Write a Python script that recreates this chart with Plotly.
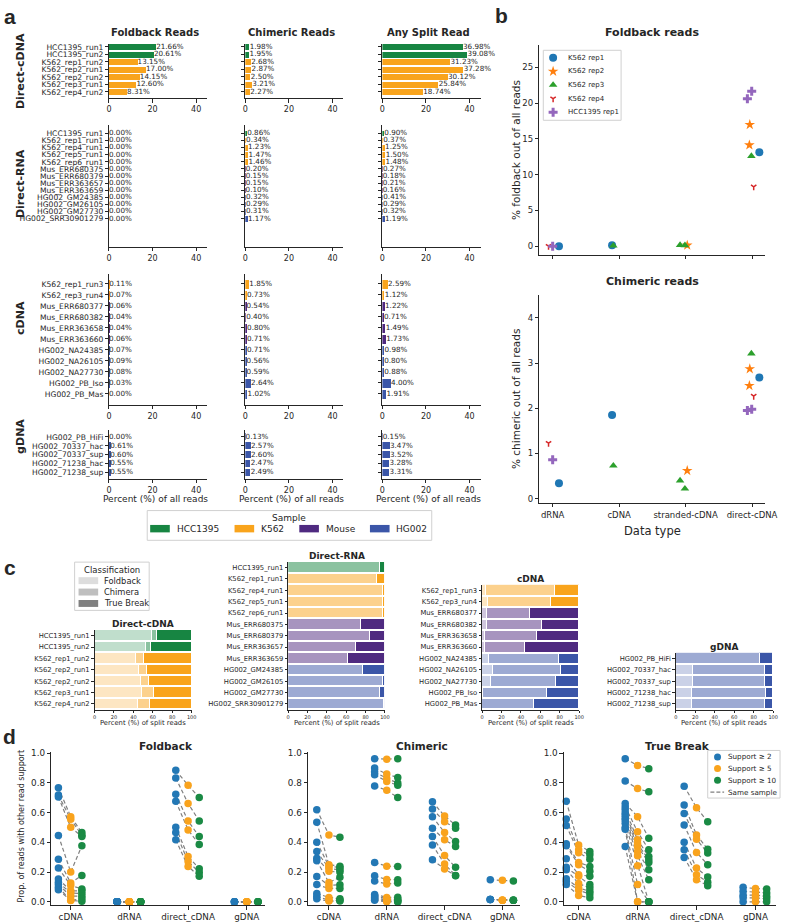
import plotly.graph_objects as go

W, H = 794, 922
FONT = "DejaVu Sans"
INK = "#262626"

# ---------------- DATA: panel a (percent of all reads) ----------------
a_dc_samples = ["HCC1395_run1", "HCC1395_run2", "K562_rep1_run2", "K562_rep2_run1",
                "K562_rep2_run2", "K562_rep3_run1", "K562_rep4_run2"]
a_dc_fold = [21.66, 20.61, 13.15, 17.00, 14.15, 12.60, 8.31]
a_dc_chim = [1.98, 1.95, 2.68, 2.87, 2.50, 3.21, 2.27]
a_dc_split = [36.98, 39.08, 31.23, 37.28, 30.12, 25.84, 18.74]

a_dr_samples = ["HCC1395_run1", "K562_rep1_run1", "K562_rep4_run1", "K562_rep5_run1",
                "K562_rep6_run1", "Mus_ERR680375", "Mus_ERR680379", "Mus_ERR363657",
                "Mus_ERR363659", "HG002_GM24385", "HG002_GM26105", "HG002_GM27730",
                "HG002_SRR30901279"]
a_dr_fold = [0.00, 0.00, 0.00, 0.00, 0.00, 0.00, 0.00, 0.00, 0.00, 0.00, 0.00, 0.00, 0.00]
a_dr_chim = [0.86, 0.34, 1.23, 1.47, 1.46, 0.20, 0.15, 0.15, 0.10, 0.32, 0.29, 0.31, 1.17]
a_dr_split = [0.90, 0.37, 1.25, 1.50, 1.48, 0.27, 0.18, 0.21, 0.16, 0.41, 0.29, 0.32, 1.19]

a_cd_samples = ["K562_rep1_run3", "K562_rep3_run4", "Mus_ERR680377", "Mus_ERR680382",
                "Mus_ERR363658", "Mus_ERR363660", "HG002_NA24385", "HG002_NA26105",
                "HG002_NA27730", "HG002_PB_Iso", "HG002_PB_Mas"]
a_cd_fold = [0.11, 0.07, 0.06, 0.04, 0.04, 0.06, 0.07, 0.09, 0.08, 0.03, 0.00]
a_cd_chim = [1.85, 0.73, 0.54, 0.40, 0.80, 0.71, 0.71, 0.56, 0.59, 2.64, 1.02]
a_cd_split = [2.59, 1.12, 1.22, 0.71, 1.49, 1.73, 0.98, 0.80, 0.88, 4.00, 1.91]

a_gd_samples = ["HG002_PB_HiFi", "HG002_70337_hac", "HG002_70337_sup",
                "HG002_71238_hac", "HG002_71238_sup"]
a_gd_fold = [0.00, 0.61, 0.60, 0.55, 0.55]
a_gd_chim = [0.13, 2.57, 2.60, 2.47, 2.49]
a_gd_split = [0.15, 3.47, 3.52, 3.28, 3.31]

sample_groups = ["HCC1395", "K562", "Mouse", "HG002"]

# ---------------- DATA: panel b ----------------
b_types = ["dRNA", "cDNA", "stranded-cDNA", "direct-cDNA"]
b_series = ["K562 rep1", "K562 rep2", "K562 rep3", "K562 rep4", "HCC1395 rep1"]
b_pt_series = ["K562 rep1", "K562 rep1", "K562 rep1",
               "K562 rep2", "K562 rep2", "K562 rep2",
               "K562 rep3", "K562 rep3", "K562 rep3", "K562 rep3",
               "K562 rep4", "K562 rep4",
               "HCC1395 rep1", "HCC1395 rep1", "HCC1395 rep1"]
b_pt_type = ["dRNA", "cDNA", "direct-cDNA",
             "stranded-cDNA", "direct-cDNA", "direct-cDNA",
             "cDNA", "stranded-cDNA", "stranded-cDNA", "direct-cDNA",
             "dRNA", "direct-cDNA",
             "dRNA", "direct-cDNA", "direct-cDNA"]
b_pt_jitter = [0.095, -0.106, 0.11,
               0.025, -0.034, -0.04,
               -0.087, -0.083, -0.01, -0.01,
               -0.062, 0.025,
               0.0, -0.005, -0.07]
b_pt_fold = [0.00, 0.11, 13.15,
             0.12, 17.00, 14.15,
             0.07, 0.15, 0.12, 12.60,
             0.00, 8.31,
             0.00, 21.66, 20.61]
b_pt_chim = [0.34, 1.85, 2.68,
             0.62, 2.87, 2.50,
             0.73, 0.40, 0.22, 3.21,
             1.23, 2.27,
             0.86, 1.98, 1.95]

# ---------------- DATA: panel c (percent of split reads) ----------------
c_dc_fold = [58.6, 52.7, 42.1, 45.6, 47.0, 48.8, 44.3]
c_dc_chim = [5.4, 5.0, 8.6, 7.7, 8.3, 12.4, 12.1]
c_dc_tb = [36.0, 42.3, 49.3, 46.7, 44.7, 38.8, 43.6]
c_dr_fold = [0.0, 0.0, 0.0, 0.0, 0.0, 0.0, 0.0, 0.0, 0.0, 0.0, 0.0, 0.0, 0.0]
c_dr_chim = [95.6, 92.5, 98.4, 98.0, 98.6, 75.5, 84.5, 70.0, 62.0, 78.0, 98.0, 95.5, 99.0]
c_dr_tb = [4.4, 7.5, 1.6, 2.0, 1.4, 24.5, 15.5, 30.0, 38.0, 22.0, 2.0, 4.5, 1.0]
c_cd_fold = [4.2, 6.3, 4.9, 5.6, 2.7, 3.5, 7.1, 11.3, 9.1, 0.8, 0.0]
c_cd_chim = [71.4, 65.2, 44.3, 56.3, 53.7, 41.0, 72.4, 70.0, 67.0, 66.0, 53.4]
c_cd_tb = [24.4, 28.5, 50.8, 38.1, 43.6, 55.5, 20.5, 18.7, 23.9, 33.2, 46.6]
c_gd_fold = [0.0, 17.6, 17.0, 16.8, 16.6]
c_gd_chim = [86.7, 74.1, 73.9, 75.3, 75.2]
c_gd_tb = [13.3, 8.3, 9.1, 7.9, 8.2]
c_classes = ["Foldback", "Chimera", "True Break"]

# ---------------- DATA: panel d (support >=2, >=5, >=10 per sample) ----------------
d_categories = ["cDNA", "dRNA", "direct_cDNA", "gDNA"]
d_supports = ["Support \u2265 2", "Support \u2265 5", "Support \u2265 10"]

d_fold_cDNA = [(0.767, 0.573, 0.466), (0.718, 0.555, 0.448), (0.706, 0.501, 0.439),
               (0.446, 0.200, 0.377), (0.287, 0.127, 0.178), (0.227, 0.110, 0.087),
               (0.154, 0.074, 0.074), (0.131, 0.060, 0.056), (0.116, 0.038, 0.038),
               (0.098, 0.011, 0.020), (0.082, 0.009, 0.004)]
d_fold_dRNA = [(0.0, 0.0, 0.0), (0.0, 0.0, 0.0), (0.0, 0.0, 0.0), (0.0, 0.0, 0.0),
               (0.0, 0.0, 0.0), (0.0, 0.0, 0.0), (0.0, 0.0, 0.0), (0.0, 0.0, 0.0),
               (0.0, 0.0, 0.0), (0.0, 0.0, 0.0), (0.0, 0.0, 0.0), (0.0, 0.0, 0.0),
               (0.0, 0.0, 0.0)]
d_fold_direct = [(0.885, 0.784, 0.702), (0.833, 0.662, 0.544), (0.724, 0.544, 0.439),
                 (0.677, 0.484, 0.386), (0.501, 0.305, 0.223), (0.466, 0.272, 0.198),
                 (0.417, 0.238, 0.172)]
d_fold_gDNA = [(0.0, 0.0, 0.0), (0.0, 0.0, 0.0), (0.0, 0.0, 0.0), (0.0, 0.0, 0.0),
               (0.0, 0.0, 0.0)]

d_chim_cDNA = [(0.620, 0.450, 0.435), (0.535, 0.250, 0.240), (0.401, 0.240, 0.230),
               (0.339, 0.225, 0.215), (0.294, 0.205, 0.200), (0.276, 0.130, 0.165),
               (0.171, 0.110, 0.115), (0.116, 0.090, 0.090), (0.056, 0.030, 0.020),
               (0.038, 0.010, 0.010), (0.020, 0.005, 0.005)]
d_chim_dRNA = [(0.963, 0.960, 0.963), (0.900, 0.860, 0.836), (0.875, 0.830, 0.800),
               (0.855, 0.810, 0.784), (0.780, 0.750, 0.702), (0.265, 0.240, 0.238),
               (0.175, 0.150, 0.149), (0.140, 0.120, 0.127), (0.050, 0.030, 0.031),
               (0.040, 0.020, 0.016), (0.030, 0.010, 0.010), (0.020, 0.005, 0.0),
               (0.010, 0.0, 0.0)]
d_chim_direct = [(0.673, 0.577, 0.517), (0.624, 0.539, 0.495), (0.573, 0.466, 0.406),
                 (0.495, 0.417, 0.372), (0.439, 0.312, 0.232), (0.383, 0.254, 0.178),
                 (0.283, 0.221, 0.176)]
d_chim_gDNA = [(0.149, 0.145, 0.140), (0.016, 0.011, 0.011), (0.016, 0.011, 0.011),
               (0.016, 0.011, 0.011), (0.016, 0.011, 0.011)]

d_tb_cDNA = [(0.677, 0.383, 0.339), (0.557, 0.350, 0.316), (0.513, 0.330, 0.287),
             (0.390, 0.265, 0.238), (0.377, 0.250, 0.205), (0.290, 0.183, 0.172),
             (0.232, 0.172, 0.116), (0.216, 0.123, 0.094), (0.156, 0.094, 0.071),
             (0.138, 0.078, 0.053), (0.116, 0.042, 0.027)]
d_tb_dRNA = [(0.963, 0.918, 0.896), (0.813, 0.762, 0.740), (0.662, 0.573, 0.428),
             (0.640, 0.472, 0.350), (0.622, 0.417, 0.305), (0.600, 0.390, 0.283),
             (0.584, 0.372, 0.265), (0.566, 0.339, 0.216), (0.550, 0.310, 0.149),
             (0.528, 0.243, 0.0), (0.500, 0.116, 0.0), (0.488, 0.0, 0.0),
             (0.372, 0.0, 0.0)]
d_tb_direct = [(0.778, 0.633, 0.539), (0.651, 0.450, 0.354), (0.595, 0.421, 0.328),
               (0.517, 0.332, 0.250), (0.401, 0.227, 0.167), (0.350, 0.183, 0.131),
               (0.299, 0.149, 0.109)]
d_tb_gDNA = [(0.098, 0.089, 0.087), (0.071, 0.067, 0.060), (0.045, 0.045, 0.038),
             (0.027, 0.027, 0.020), (0.0, 0.0, 0.0)]

# ---------------- STYLE ----------------
GROUP_RGB = {"HCC1395": (23, 133, 66), "K562": (249, 164, 28),
             "Mouse": (79, 42, 128), "HG002": (59, 86, 168)}
B_STYLE = {
    "K562 rep1": dict(symbol="circle", size=8, color="#1f77b4"),
    "K562 rep2": dict(symbol="star", size=8, color="#ff7f0e"),
    "K562 rep3": dict(symbol="triangle-up", size=7.5, color="#2ca02c"),
    "K562 rep4": dict(symbol="y-down", size=4.5, color="#d62728", line=dict(color="#d62728", width=1.5)),
    "HCC1395 rep1": dict(symbol="cross", size=7.5, color="#9467bd"),
}
D_COLORS = ["#2378b5", "#f9a31d", "#1a8a44"]
D_OFFSETS = [-0.21, 0.0, 0.19]


def group_of(name):
    if name.startswith("HCC1395"):
        return "HCC1395"
    if name.startswith("K562"):
        return "K562"
    if name.startswith("Mus"):
        return "Mouse"
    return "HG002"


def rgba(c, a):
    return "rgba(%d,%d,%d,%s)" % (c[0], c[1], c[2], a)


def px(x):
    return x / W


def py(y):
    return 1 - y / H


layout = {}
traces = []
shapes = []
annotations = []
_count = [0]


def base_axis(**kw):
    d = dict(showline=True, linecolor=INK, linewidth=1, ticks="outside", ticklen=3.5,
             tickwidth=1, tickcolor=INK, showgrid=False, zeroline=False,
             tickfont=dict(family=FONT, size=8, color=INK), mirror=False, fixedrange=True)
    d.update(kw)
    return d


def add_axes(x0, x1, y0, y1, xa, ya):
    _count[0] += 1
    n = _count[0]
    sfx = "" if n == 1 else str(n)
    xa = dict(xa)
    ya = dict(ya)
    xa.update(domain=[px(x0), px(x1)], anchor="y" + sfx)
    ya.update(domain=[py(y1), py(y0)], anchor="x" + sfx)
    layout["xaxis" + sfx] = xa
    layout["yaxis" + sfx] = ya
    return "x" + sfx, "y" + sfx


def text(x, y, s, size, bold=False, color=INK, xanchor="center", yanchor="middle",
         angle=0, family=FONT):
    annotations.append(dict(x=px(x), y=py(y), xref="paper", yref="paper", text=("<b>%s</b>" % s) if bold else s,
                            showarrow=False, xanchor=xanchor, yanchor=yanchor, textangle=angle,
                            font=dict(family=family, size=size, color=color)))


# ---------------- PANEL A ----------------
a_rows = [("Direct-cDNA", a_dc_samples, a_dc_fold, a_dc_chim, a_dc_split),
          ("Direct-RNA", a_dr_samples, a_dr_fold, a_dr_chim, a_dr_split),
          ("cDNA", a_cd_samples, a_cd_fold, a_cd_chim, a_cd_split),
          ("gDNA", a_gd_samples, a_gd_fold, a_gd_chim, a_gd_split)]
A_GEOM = [(40, 95, 43.3, 88.7, 68), (122, 244.7, 130.5, 216.7, 181),
          (272, 404.3, 282.3, 393.3, 317), (430, 479, 436.7, 472.7, 436)]
A_COLS = [(108, 208), (247, 347), (386.7, 486.7)]
A_TITLES = ["Foldback Reads", "Chimeric Reads", "Any Split Read"]

for r, (label, samples, fold, chim, split) in enumerate(a_rows):
    T, B, c0, cl, ly = A_GEOM[r]
    n = len(samples)
    s = (cl - c0) / (n - 1)
    yr = [n - 1 + (B - cl) / s, -(c0 - T) / s]
    colors = [rgba(GROUP_RGB[group_of(x)], 1) for x in samples]
    for c, vals in enumerate([fold, chim, split]):
        x0, x1 = A_COLS[c]
        xa = base_axis(range=[0, 45], tickvals=[0, 20, 40])
        ya = base_axis(type="category", categoryorder="array", categoryarray=samples,
                       tickmode="array", tickvals=samples, ticktext=samples,
                       range=yr, showticklabels=(c == 0), ticklen=3,
                       tickfont=dict(family=FONT, size=7.6, color=INK))
        xn, yn = add_axes(x0, x1, T, B, xa, ya)
        traces.append(go.Bar(x=vals, y=samples, orientation="h", width=0.8,
                             marker=dict(color=colors, line=dict(width=0)),
                             xaxis=xn, yaxis=yn, showlegend=False))
        traces.append(go.Scatter(x=vals, y=samples, mode="text",
                                 text=["%.2f%%" % v for v in vals], textposition="middle right",
                                 textfont=dict(family=FONT, size=7.2, color=INK),
                                 xaxis=xn, yaxis=yn, showlegend=False, cliponaxis=False))
        if r == 0:
            text((x0 + x1) / 2 - 3, 29, A_TITLES[c], 10, bold=True)
        if r == 3:
            text((x0 + x1) / 2 - 3, 499, "Percent (%) of all reads", 9)
    text(18, ly, label, 11, bold=True, angle=-90)

# legend a
shapes.append(dict(type="rect", xref="paper", yref="paper", x0=px(147), x1=px(437), y0=py(541), y1=py(511),
                   line=dict(color="#d0d0d0", width=1), fillcolor="rgba(255,255,255,0.9)", layer="below"))
text(291, 519, "Sample", 9)
A_LEG_X = [150, 236, 302, 374]
for g, lx in zip(sample_groups, A_LEG_X):
    shapes.append(dict(type="rect", xref="paper", yref="paper", x0=px(lx), x1=px(lx + 20),
                       y0=py(533), y1=py(525.5), line=dict(width=0),
                       fillcolor=rgba(GROUP_RGB[g], 1), layer="below"))
    text(lx + 25, 530, g, 9, xanchor="left")

# ---------------- PANEL B ----------------
B_X0, B_X1 = 546.7, 777
b_geom = [(41.7, 252.7, [-1.17, 28.1], 5, "Foldback reads", "% foldback out of all reads", b_pt_fold),
          (293.3, 503.3, [-0.094, 4.51], 1, "Chimeric reads", "% chimeric out of all reads", b_pt_chim)]
for k, (T, B, yr, dt, title, ylab, vals) in enumerate(b_geom):
    xa = base_axis(range=[-0.2, 3.2], tickvals=[0, 1, 2, 3], ticktext=b_types,
                   showticklabels=(k == 1), tickfont=dict(family=FONT, size=8.5, color=INK))
    ya = base_axis(range=yr, dtick=dt, tick0=0, tickfont=dict(family=FONT, size=8.5, color=INK))
    xn, yn = add_axes(B_X0, B_X1, T, B, xa, ya)
    for ser in b_series:
        xs = [b_types.index(t) + j for sname, t, j in zip(b_pt_series, b_pt_type, b_pt_jitter) if sname == ser]
        ys = [v for sname, v in zip(b_pt_series, vals) if sname == ser]
        st = B_STYLE[ser]
        mk = dict(symbol=st["symbol"], size=st["size"], color=st["color"],
                  line=st.get("line", dict(width=0)))
        traces.append(go.Scatter(x=xs, y=ys, mode="markers", marker=mk, xaxis=xn, yaxis=yn,
                                 showlegend=False, cliponaxis=False))
    text((B_X0 + B_X1) / 2, T - 13, title, 11, bold=True)
    text(523, (T + B) / 2, ylab, 10.5, angle=-90)
text((B_X0 + B_X1) / 2, 532, "Data type", 11.5)

# ---------------- PANEL C ----------------
c_rows = [("Direct-cDNA", a_dc_samples, c_dc_fold, c_dc_chim, c_dc_tb),
          ("Direct-RNA", a_dr_samples, c_dr_fold, c_dr_chim, c_dr_tb),
          ("cDNA", a_cd_samples, c_cd_fold, c_cd_chim, c_cd_tb),
          ("gDNA", a_gd_samples, c_gd_fold, c_gd_chim, c_gd_tb)]
C_AX = [(93.3, 192.3), (290.7, 389.3), (488.3, 587.3), (685.7, 785)]
C_B, C_S = 711.7, 11.45
C_ALPHA = [0.27, 0.5, 1.0]
for k, (title, samples, fo, ch, tb) in enumerate(c_rows):
    n = len(samples)
    T = C_B - n * C_S
    x0, x1 = C_AX[k]
    xa = base_axis(range=[0, 100], tickvals=[0, 20, 40, 60, 80, 100], ticklen=2.5,
                   tickfont=dict(family=FONT, size=5, color=INK))
    ya = base_axis(type="category", categoryorder="array", categoryarray=samples,
                   tickmode="array", tickvals=samples, ticktext=samples,
                   range=[n - 0.5, -0.5], ticklen=2.5, tickfont=dict(family=FONT, size=6.8, color=INK))
    xn, yn = add_axes(x0, x1, T, C_B, xa, ya)
    for vals, alpha in zip([fo, ch, tb], C_ALPHA):
        cols = [rgba(GROUP_RGB[group_of(x)], alpha) for x in samples]
        traces.append(go.Bar(x=vals, y=samples, orientation="h", width=0.92,
                             marker=dict(color=cols, line=dict(color="white", width=1)),
                             xaxis=xn, yaxis=yn, showlegend=False))
    text((x0 + x1) / 2, T - 6, title, 9, bold=True)
    text((x0 + x1) / 2, 725.5, "Percent (%) of split reads", 6.8)

# legend c
shapes.append(dict(type="rect", xref="paper", yref="paper", x0=px(73), x1=px(149), y0=py(611.7), y1=py(563),
                   line=dict(color="#d0d0d0", width=1), fillcolor="rgba(255,255,255,0.9)", layer="below"))
text(111, 570.5, "Classification", 8.5)
for i, (cls, alpha) in enumerate(zip(c_classes, C_ALPHA)):
    yy = 581.7 + i * 11.5
    shapes.append(dict(type="rect", xref="paper", yref="paper", x0=px(77), x1=px(97),
                       y0=py(yy + 3.5), y1=py(yy - 3.5), line=dict(width=0),
                       fillcolor=rgba((128, 128, 128), alpha), layer="below"))
    text(101, yy, cls, 8.3, xanchor="left")

# ---------------- PANEL D ----------------
d_panels = [("Foldback", [d_fold_cDNA, d_fold_dRNA, d_fold_direct, d_fold_gDNA], 49.3, 266.7, [-0.33, 3.305]),
            ("Chimeric", [d_chim_cDNA, d_chim_dRNA, d_chim_direct, d_chim_gDNA], 311, 527.3, [-0.36, 3.31]),
            ("True Break", [d_tb_cDNA, d_tb_dRNA, d_tb_direct, d_tb_gDNA], 571.7, 788, [-0.25, 3.35])]
D_T, D_B = 755, 909
for k, (title, groups, x0, x1, xr) in enumerate(d_panels):
    xa = base_axis(range=xr, tickvals=[0, 1, 2, 3], ticktext=d_categories,
                   tickfont=dict(family=FONT, size=8.8, color=INK))
    ya = base_axis(range=[-0.022, 1.005], tickvals=[0, 0.2, 0.4, 0.6, 0.8, 1.0],
                   ticktext=["0.0", "0.2", "0.4", "0.6", "0.8", "1.0"],
                   tickfont=dict(family=FONT, size=8.8, color=INK))
    xn, yn = add_axes(x0, x1, D_T, D_B, xa, ya)
    lx, ly_ = [], []
    for ci, grp in enumerate(groups):
        for tup in grp:
            for off, v in zip(D_OFFSETS, tup):
                lx.append(ci + off)
                ly_.append(v)
            lx.append(None)
            ly_.append(None)
    traces.append(go.Scatter(x=lx, y=ly_, mode="lines", line=dict(color="#808080", width=1.2, dash="4px,2.5px"),
                             xaxis=xn, yaxis=yn, showlegend=False, cliponaxis=False))
    for si in range(3):
        xs, ys = [], []
        for ci, grp in enumerate(groups):
            for tup in grp:
                xs.append(ci + D_OFFSETS[si])
                ys.append(tup[si])
        traces.append(go.Scatter(x=xs, y=ys, mode="markers",
                                 marker=dict(size=7.5, color=D_COLORS[si], line=dict(width=0)),
                                 xaxis=xn, yaxis=yn, showlegend=False, cliponaxis=False))
    text((x0 + x1) / 2 + 8, 748, title, 10.5, bold=True)
text(19, 830, "Prop. of reads with other read support", 8, angle=-90)

# ---------------- overlay axis for legend keys (pixel coordinates) ----------------
xa = dict(range=[0, W], visible=False, fixedrange=True)
ya = dict(range=[H, 0], visible=False, fixedrange=True)
on, oy = add_axes(0, W, 0, H, xa, ya)

# legend b
shapes.append(dict(type="rect", xref="paper", yref="paper", x0=px(550.7), x1=px(630), y0=py(117.3), y1=py(46.7),
                   line=dict(color="#d0d0d0", width=1), fillcolor="rgba(255,255,255,0.9)", layer="below"))
for i, ser in enumerate(b_series):
    yy = 54.3 + i * 13.7
    st = B_STYLE[ser]
    traces.append(go.Scatter(x=[560.7], y=[yy], mode="markers",
                             marker=dict(symbol=st["symbol"], size=st["size"], color=st["color"],
                                         line=st.get("line", dict(width=0))),
                             xaxis=on, yaxis=oy, showlegend=False, cliponaxis=False))
    text(574, yy, ser, 7, xanchor="left")

# legend d
shapes.append(dict(type="rect", xref="paper", yref="paper", x0=px(718.3), x1=px(792), y0=py(801), y1=py(753),
                   line=dict(color="#d0d0d0", width=1), fillcolor="rgba(255,255,255,0.9)", layer="below"))
for i, lab in enumerate(d_supports):
    yy = 759.5 + i * 11.8
    traces.append(go.Scatter(x=[728.3], y=[yy], mode="markers",
                             marker=dict(size=7, color=D_COLORS[i]),
                             xaxis=on, yaxis=oy, showlegend=False, cliponaxis=False))
    text(736.5, yy, lab, 7.2, xanchor="left")
shapes.append(dict(type="line", xref="paper", yref="paper", x0=px(721), x1=px(735), y0=py(795), y1=py(795),
                   line=dict(color="#808080", width=1.2, dash="4px,2px")))
text(736.5, 795, "Same sample", 7.2, xanchor="left")

# panel letters
for letter, (lx, lyy) in zip("abcd", [(7, 13), (508, 12), (7, 568), (7, 739)]):
    text(lx, lyy, letter, 21, bold=True, family="Liberation Sans")

fig = go.Figure(data=traces)
fig.update_layout(**layout)
fig.update_layout(width=W, height=H, margin=dict(l=0, r=0, t=0, b=0),
                  paper_bgcolor="white", plot_bgcolor="rgba(0,0,0,0)",
                  barmode="stack", bargap=0, showlegend=False,
                  shapes=shapes, annotations=annotations,
                  font=dict(family=FONT, color=INK))
fig.write_html("out.html")
